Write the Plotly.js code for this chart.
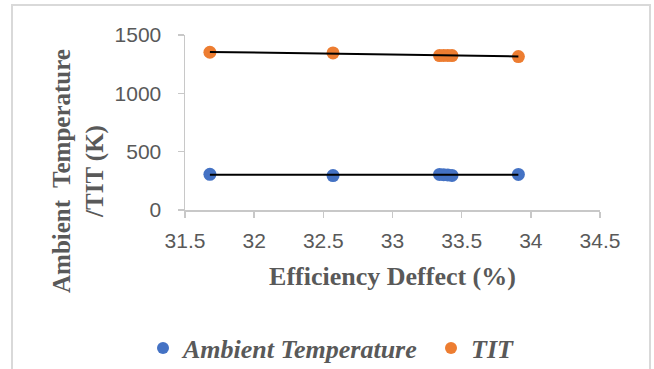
<!DOCTYPE html>
<html>
<head>
<meta charset="utf-8">
<script src="https://cdn.plot.ly/plotly-3.0.1.min.js"></script>
<style>
html,body{margin:0;padding:0;background:#fff;}
#chart{width:654px;height:369px;}
</style>
</head>
<body>
<div id="chart"></div>
<script>
// Data
const efficiencyDefect = [31.68, 32.57, 33.34, 33.37, 33.40, 33.43, 33.91];
const ambientTemperature = [306, 295, 305, 303, 300, 296, 305];
const tit = [1352, 1346, 1324, 1325, 1325, 1324, 1315];

const seriesNames = ['Ambient Temperature', 'TIT'];
const xTickVals = [31.5, 32, 32.5, 33, 33.5, 34, 34.5];
const yTickVals = [0, 500, 1000, 1500];
const xTitle = 'Efficiency Deffect (%)';
const yTitleLines = ['Ambient  Temperature', '/TIT (K)'];

function linFit(xs, ys) {
  const n = xs.length;
  const mx = xs.reduce((a, b) => a + b, 0) / n;
  const my = ys.reduce((a, b) => a + b, 0) / n;
  let sxy = 0, sxx = 0;
  for (let i = 0; i < n; i++) { sxy += (xs[i] - mx) * (ys[i] - my); sxx += (xs[i] - mx) ** 2; }
  const m = sxy / sxx, b = my - m * mx;
  const x0 = Math.min(...xs), x1 = Math.max(...xs);
  return { x: [x0, x1], y: [m * x0 + b, m * x1 + b] };
}

const fitA = linFit(efficiencyDefect, ambientTemperature);
const fitT = linFit(efficiencyDefect, tit);

const gray = '#595959';
const axisGray = '#c8c8c8';

const traces = [
  { x: efficiencyDefect, y: ambientTemperature, mode: 'markers', type: 'scatter', name: seriesNames[0],
    marker: { color: '#4472C4', size: 13 } },
  { x: efficiencyDefect, y: tit, mode: 'markers', type: 'scatter', name: seriesNames[1],
    marker: { color: '#ED7D31', size: 13 } },
  { x: fitA.x, y: fitA.y, mode: 'lines', type: 'scatter', showlegend: false, hoverinfo: 'skip',
    line: { color: '#000000', width: 2 } },
  { x: fitT.x, y: fitT.y, mode: 'lines', type: 'scatter', showlegend: false, hoverinfo: 'skip',
    line: { color: '#000000', width: 2 } }
];

const L = 185, R = 54, T = 35, B = 159, W = 654, H = 369;
const pw = W - L - R, ph = H - T - B;
const px = v => (v - L) / pw;
const py = v => (H - B - v) / ph;

const layout = {
  width: W, height: H,
  margin: { l: L, r: R, t: T, b: B, pad: 0, autoexpand: false },
  paper_bgcolor: '#ffffff', plot_bgcolor: '#ffffff',
  showlegend: true,
  xaxis: {
    range: [31.5, 34.5], tickvals: xTickVals, ticktext: xTickVals.map(String),
    showgrid: false, zeroline: false, showline: true, linecolor: axisGray, linewidth: 1.5,
    ticks: 'outside', ticklen: 6, tickcolor: axisGray, tickwidth: 1.5,
    ticklabelstandoff: 5,
    tickfont: { family: 'Liberation Sans, Arial, sans-serif', size: 21, color: gray },
    title: { text: '<b>' + xTitle + '</b>', standoff: 16,
      font: { family: 'Liberation Serif, Times New Roman, serif', size: 26, color: gray } },
    automargin: false, fixedrange: true
  },
  yaxis: {
    range: [0, 1500], tickvals: yTickVals, ticktext: yTickVals.map(String),
    showgrid: false, zeroline: false, showline: true, linecolor: axisGray, linewidth: 1.5,
    ticks: 'outside', ticklen: 6, tickcolor: axisGray, tickwidth: 1.5,
    ticklabelstandoff: 12,
    tickfont: { family: 'Liberation Sans, Arial, sans-serif', size: 21, color: gray },
    automargin: false, fixedrange: true
  },
  legend: {
    orientation: 'h', x: px(143), xanchor: 'left', y: py(348), yanchor: 'middle',
    entrywidth: 243, entrywidthmode: 'pixels',
    font: { family: 'Liberation Serif, Times New Roman, serif', size: 26, color: gray, weight: 'bold', style: 'italic' },
    itemsizing: 'constant', bgcolor: 'rgba(0,0,0,0)', tracegroupgap: 0
  },
  annotations: [
    { xref: 'paper', yref: 'paper', x: px(78), y: py(171), xanchor: 'center', yanchor: 'middle',
      textangle: -90, showarrow: false,
      text: '<b>' + yTitleLines.join('<br>') + '</b>',
      font: { family: 'Liberation Serif, Times New Roman, serif', size: 25, color: gray } }
  ],
  shapes: [
    { type: 'rect', xref: 'paper', yref: 'paper', x0: px(12), x1: px(650), y0: py(375), y1: py(5),
      line: { color: '#d9d9d9', width: 2 }, fillcolor: 'rgba(0,0,0,0)', layer: 'below' }
  ]
};

Plotly.newPlot('chart', traces, layout, { displayModeBar: false, staticPlot: true });
</script>
</body>
</html>
